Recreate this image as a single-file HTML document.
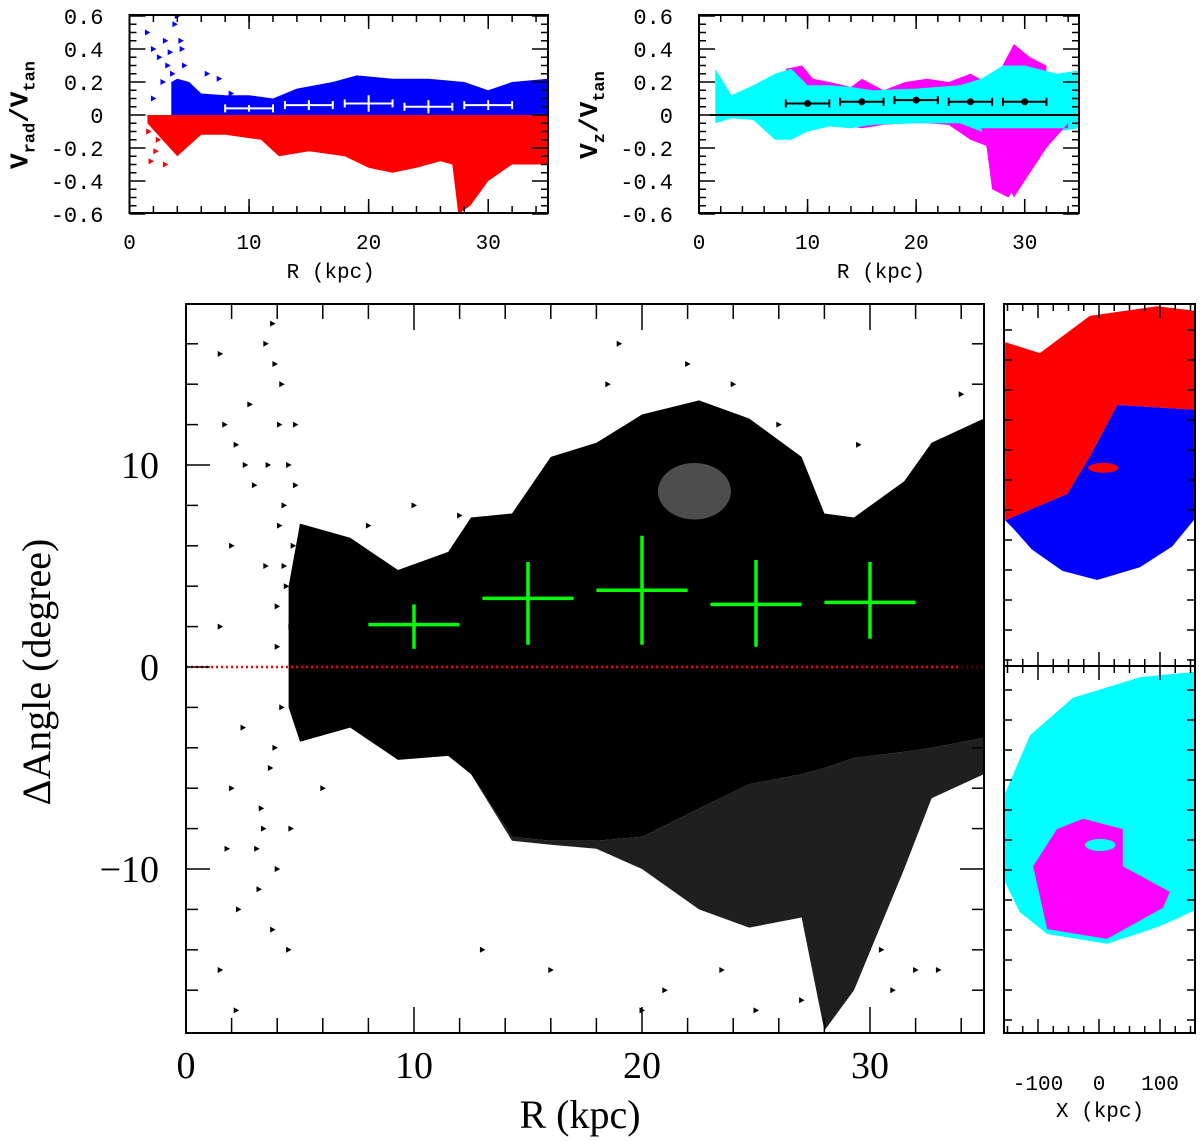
<!DOCTYPE html>
<html><head><meta charset="utf-8">
<style>
html,body{margin:0;padding:0;background:#fff;}
svg{display:block;}
.mono{font-family:"Liberation Mono","DejaVu Sans Mono",monospace;}
.serif{font-family:"Liberation Serif","DejaVu Serif",serif;}
</style></head>
<body>
<svg id="fig" width="1200" height="1141" viewBox="0 0 1200 1141" xmlns="http://www.w3.org/2000/svg">
<defs>
<clipPath id="cTL"><rect x="129.5" y="15" width="418.5" height="198"/></clipPath>
<clipPath id="cTR"><rect x="699" y="15" width="380" height="198"/></clipPath>
<clipPath id="cM"><rect x="186" y="304" width="798" height="729"/></clipPath>
<clipPath id="cS1"><rect x="1004" y="304" width="191" height="362"/></clipPath>
<clipPath id="cS2"><rect x="1004" y="666" width="191" height="367"/></clipPath>
</defs>
</svg>
<script>
// ---------- MAIN PANEL DATA ----------
const mainR      = [4.5, 5, 7.2, 9.3, 11.5, 12.5, 14.3, 16, 18, 20, 22.5, 24.7, 27, 28, 29.3, 31.5, 32.7, 35];
const mainUpper  = [4, 7.1, 6.4, 4.8, 5.7, 7.4, 7.6, 10.4, 11.1, 12.5, 13.2, 12.3, 10.4, 7.6, 7.4, 9.2, 11.1, 12.3];
const mainCore   = [-2, -3.7, -3, -4.6, -4.4, -5.3, -8.4, -8.6, -8.6, -8.4, -7, -5.8, -5.3, -5, -4.5, -4.2, -4, -3.5];
const mainFringe = [-2, -3.7, -3, -4.6, -4.4, -5.3, -8.6, -8.8, -9, -10, -12, -12.9, -12.4, -18, -16, -10, -6.5, -5.3];
const binR    = [10, 15, 20, 25, 30];
const binVal  = [2.1, 3.4, 3.8, 3.1, 3.2];
const binLo   = [0.9, 1.1, 1.1, 1.0, 1.4];
const binHi   = [3.1, 5.2, 6.5, 5.3, 5.2];
const binHalf = [2, 2, 2, 2, 2];
const sparseR = [1.5,1.7,2.2,2.8,3.5,3.8,4.2,4.5,4.8,3,2,1.5,2.5,2,1.8,2.3,3.2,3.8,4.5,1.5,2.2,4,4.6,3.3,3.5,4,19,18.5,22,26,29.5,34,20,25,31,33,27,12,10,3.9,4.1,4.3,3.6,4.7,4.4,3.7,4.0,4.2,4.6,3.9,4.3,4.1,3.4,4.8,2.6,3.1,13,16,21,23.5,24,32,30.5,8,6];
const sparseA = [15.5,12,11,13,16,17,14,10,12,9,6,2,-3,-6,-9,-12,-11,-13,-14,-15,-17,-10,-8,-7,5,3,16,14,15,12,11,13.5,-17,-17,-16,-15,-16.5,7.5,8,15,12,8,10,6,4,-5,1,-2,2,-4,5,7,-8,9,10,-9,-14,-15,-16,-15,14,-15,-14,7,-6];
const mainXTicks = [0, 10, 20, 30];
const mainYTicks = [-10, 0, 10];

// ---------- TOP-LEFT DATA ----------
const tlR     = [3.5, 4, 5, 6, 8, 10, 12, 14, 17, 19, 22, 25, 28, 30, 32, 35];
const tlUpper = [0.2, 0.22, 0.2, 0.13, 0.12, 0.12, 0.1, 0.16, 0.2, 0.24, 0.22, 0.22, 0.2, 0.15, 0.2, 0.22];
const tlRedR  = [1.5, 4, 6, 8, 11, 12.5, 15, 18, 20, 22, 24, 26, 27, 27.5, 28.5, 30, 32, 35];
const tlLower = [-0.05, -0.25, -0.12, -0.12, -0.15, -0.25, -0.22, -0.25, -0.32, -0.35, -0.32, -0.28, -0.3, -0.6, -0.55, -0.4, -0.3, -0.3];
const tlBinVal = [0.04, 0.06, 0.07, 0.05, 0.06];
const tlBinErr = [0.02, 0.03, 0.05, 0.04, 0.03];
const tlSpR = [1.5,2,2.5,3,3.2,3.8,4,4.3,4.6,2,1.8,2.2,3,6.5,7.5,8.5,3.4,3.6,2.8,4.4,2.4,1.6];
const tlSpV = [0.5,0.4,0.35,0.45,0.3,0.55,0.6,0.45,0.3,0.1,-0.28,-0.22,-0.3,0.25,0.22,0.13,0.38,0.25,0.2,0.4,-0.15,-0.1];

// ---------- TOP-RIGHT DATA ----------
const trR      = [1.5, 3, 5, 7, 8.5, 10, 12, 14, 16, 20, 24, 26, 28, 30, 33, 35];
const trCyanHi = [0.28, 0.12, 0.18, 0.25, 0.28, 0.18, 0.18, 0.17, 0.15, 0.16, 0.18, 0.22, 0.3, 0.3, 0.25, 0.27];
const trCyanLo = [-0.05, -0.02, -0.03, -0.15, -0.15, -0.1, -0.07, -0.08, -0.06, -0.05, -0.05, -0.1, -0.15, -0.12, -0.1, -0.08];
const trMagR   = [8, 9.5, 10.5, 12, 14, 15, 17, 19, 21, 23, 25, 27, 29, 30.5, 32];
const trMagHi  = [0.28, 0.3, 0.22, 0.2, 0.17, 0.22, 0.15, 0.2, 0.22, 0.2, 0.25, 0.18, 0.43, 0.35, 0.3];
const trMagLo  = [-0.1, -0.1, -0.08, -0.07, -0.07, -0.08, -0.06, -0.05, -0.05, -0.06, -0.15, -0.2, -0.5, -0.35, -0.2];
const trTroR   = [26, 26.5, 27, 28.5, 30, 32, 34];
const trTroLo  = [-0.08, -0.2, -0.45, -0.5, -0.35, -0.2, -0.05];
const trBinVal = [0.07, 0.08, 0.09, 0.08, 0.08];
const trBinErr = [0.01, 0.02, 0.02, 0.01, 0.02];

// ---------- SIDE PANELS (X,Y in kpc) ----------
const s1RedX  = [-154,-97,-15,95,161,161,30,-15,-52,-154];
const s1RedY  = [235,217,278,294,286,124,132,47,-14,-57];
const s1BlueX = [-154,-52,-15,30,161,161,120,67,-3,-60,-110,-141];
const s1BlueY = [-57,-14,47,132,124,-50,-100,-134,-155,-140,-105,-70];
const s2CyanX = [-154,-113,-43,67,161,161,130,95,13,-85,-130,-154];
const s2CyanY = [90,185,246,280,289,-100,-115,-130,-157,-141,-105,-56];
const s2MagX  = [-108,-69,-26,39,39,116,105,13,-85];
const s2MagY  = [-30,31,48,31,-30,-72,-98,-149,-133];
const sideXTicks = [-100, 0, 100];

const NS = "http://www.w3.org/2000/svg";
const svg = document.getElementById('fig');
function mk(tag, attrs, parent){ const e=document.createElementNS(NS,tag); for(const k in attrs) e.setAttribute(k,attrs[k]); (parent||svg).appendChild(e); return e; }

const mx = r => 186 + r*22.8, my = a => 667 - a*20.2;
const tlx = r => 129.5 + r*11.957, tly = v => 115 - v*165;
const trx = r => 699 + r*10.857, tryy = v => 115 - v*165;
const s1x = x => 1099 + x*0.61, s1y = y => 485.5 - y*0.61;
const s2y = y => 848 - y*0.61;

function band(xs, hi, lo, fx, fy){
  let d = 'M' + xs.map((r,i)=>fx(r).toFixed(1)+','+fy(hi[i]).toFixed(1)).join('L');
  for(let i=xs.length-1;i>=0;i--) d += 'L'+fx(xs[i]).toFixed(1)+','+fy(lo[i]).toFixed(1);
  return d+'Z';
}
function poly(xs, ys, fx, fy){ return xs.map((x,i)=>fx(x).toFixed(1)+','+fy(ys[i]).toFixed(1)).join(' '); }
function tri(g, x, y, c){ return mk('path',{d:`M${x-2.5},${y-3}L${x+3},${y}L${x-2.5},${y+3}Z`, fill:c}, g); }

// ================= TOP-LEFT =================
const gTL = mk('g',{'clip-path':'url(#cTL)'});


const zeros = tlR.map(()=>0);
let p = mk('path',{d:band(tlR,tlUpper,zeros,tlx,tly), fill:'#0000ff'}, gTL);
 
p = mk('path',{d:band(tlRedR,tlRedR.map(()=>0),tlLower,tlx,tly), fill:'#ff0000'}, gTL);
 
tlSpR.forEach((r,i)=>{ const t=tri(gTL,tlx(r),tly(tlSpV[i]), tlSpV[i]>0?'#0000ff':'#ff0000');   });
binR.forEach((r,i)=>{
  const g=mk('g',{stroke:'#fff','stroke-width':2,fill:'none'});
   
  mk('line',{x1:tlx(r-binHalf[i]),x2:tlx(r+binHalf[i]),y1:tly(tlBinVal[i]),y2:tly(tlBinVal[i])},g);
  mk('line',{x1:tlx(r),x2:tlx(r),y1:tly(tlBinVal[i]-tlBinErr[i]),y2:tly(tlBinVal[i]+tlBinErr[i])},g);
  mk('line',{x1:tlx(r-binHalf[i]),x2:tlx(r-binHalf[i]),y1:tly(tlBinVal[i])-4,y2:tly(tlBinVal[i])+4},g);
  mk('line',{x1:tlx(r+binHalf[i]),x2:tlx(r+binHalf[i]),y1:tly(tlBinVal[i])-4,y2:tly(tlBinVal[i])+4},g);
});

// ================= TOP-RIGHT =================
const gTR = mk('g',{'clip-path':'url(#cTR)'});


p = mk('path',{d:band(trMagR,trMagHi,trMagLo,trx,tryy), fill:'#ff00ff'}, gTR);
 
p = mk('path',{d:band(trR,trCyanHi,trCyanLo,trx,tryy), fill:'#00ffff'}, gTR);
 
p = mk('path',{d:band(trTroR,trTroR.map(()=>-0.08),trTroLo,trx,tryy), fill:'#ff00ff'}, gTR);
 
p = mk('line',{x1:trx(1),x2:trx(35),y1:tryy(0),y2:tryy(0),stroke:'#000','stroke-width':2}, gTR);
 
binR.forEach((r,i)=>{
  const g=mk('g',{stroke:'#000','stroke-width':2,fill:'none'});
   
  mk('line',{x1:trx(r-binHalf[i]),x2:trx(r+binHalf[i]),y1:tryy(trBinVal[i]),y2:tryy(trBinVal[i])},g);
  mk('line',{x1:trx(r),x2:trx(r),y1:tryy(trBinVal[i]-trBinErr[i]),y2:tryy(trBinVal[i]+trBinErr[i])},g);
  mk('line',{x1:trx(r-binHalf[i]),x2:trx(r-binHalf[i]),y1:tryy(trBinVal[i])-4,y2:tryy(trBinVal[i])+4},g);
  mk('line',{x1:trx(r+binHalf[i]),x2:trx(r+binHalf[i]),y1:tryy(trBinVal[i])-4,y2:tryy(trBinVal[i])+4},g);
  mk('circle',{cx:trx(r),cy:tryy(trBinVal[i]),r:2.5,fill:'#000'},g);
});

function smallAxes(x0,x1,fx,fy,name,ylab){
  const g=mk('g',{});
   
  mk('rect',{x:x0,y:15,width:x1-x0,height:198,fill:'none',stroke:'#000','stroke-width':2},g);
  for(let r=2;r<=35;r+=2){ const L=7;
    mk('line',{x1:fx(r),x2:fx(r),y1:213,y2:213-L,stroke:'#000','stroke-width':1.5},g);
    mk('line',{x1:fx(r),x2:fx(r),y1:15,y2:15+L,stroke:'#000','stroke-width':1.5},g); }
  [10,20,30].forEach(r=>{ mk('line',{x1:fx(r),x2:fx(r),y1:213,y2:199,stroke:'#000','stroke-width':1.5},g); mk('line',{x1:fx(r),x2:fx(r),y1:15,y2:29,stroke:'#000','stroke-width':1.5},g); });
  for(let k=-12;k<=12;k++){ const v=k*0.05; const L=(k%4===0)?16:7;
    mk('line',{x1:x0,x2:x0+L,y1:fy(v),y2:fy(v),stroke:'#000','stroke-width':1.5},g);
    mk('line',{x1:x1,x2:x1-L,y1:fy(v),y2:fy(v),stroke:'#000','stroke-width':1.5},g); }
  [0,10,20,30].forEach(r=>{ const t=mk('text',{x:fx(r),y:249,'text-anchor':'middle','font-size':21,class:'mono'},g); t.textContent=r;
      });
  ['0.6','0.4','0.2','0','-0.2','-0.4','-0.6'].forEach((s,i)=>{ const v=0.6-i*0.2;
    const t=mk('text',{x:x0-26,y:fy(v)+8,'text-anchor':'end','font-size':22,class:'mono'},g); t.textContent=s;
      });
  const xt=mk('text',{x:(x0+x1)/2-8,y:278,'text-anchor':'middle','font-size':21,class:'mono'},g); xt.textContent='R (kpc)';
   
  const yt=mk('text',{x:0,y:0,'text-anchor':'middle','font-size':26,class:'mono','font-weight':'bold',transform:`translate(${x0-102},115) rotate(-90)`},g);
   
  yt.innerHTML=`V<tspan font-size="17" dy="7">${ylab}</tspan><tspan dy="-7">/V</tspan><tspan font-size="17" dy="7">tan</tspan>`;
}
smallAxes(129.5,548,tlx,tly,'vrad-panel','rad');
smallAxes(699,1079,trx,tryy,'vz-panel','z');

// ================= MAIN =================
const gM = mk('g',{'clip-path':'url(#cM)'});
 
p = mk('path',{d:band(mainR,mainCore,mainFringe,mx,my), fill:'#000', opacity:0.88}, gM);
 
p = mk('path',{d:band(mainR,mainUpper,mainCore,mx,my), fill:'#000'}, gM);
 
p = mk('ellipse',{cx:mx(22.3),cy:my(8.7),rx:22.8*1.6,ry:20.2*1.4,fill:'#fff',opacity:0.3}, gM);
 
sparseR.forEach((r,i)=>{ const t=tri(gM,mx(r),my(sparseA[i]),'#000');   });
p = mk('line',{x1:186,x2:984,y1:my(0),y2:my(0),stroke:'#ff0000','stroke-width':2.5,'stroke-dasharray':'2 3'}, gM);
 
binR.forEach((r,i)=>{
  const g=mk('g',{stroke:'#00ff00','stroke-width':3.5});
   
  mk('line',{x1:mx(r-binHalf[i]),x2:mx(r+binHalf[i]),y1:my(binVal[i]),y2:my(binVal[i])},g);
  mk('line',{x1:mx(r),x2:mx(r),y1:my(binLo[i]),y2:my(binHi[i])},g);
});
const gMA=mk('g',{});
 
mk('rect',{x:186,y:304,width:798,height:729,fill:'none',stroke:'#000','stroke-width':2},gMA);
for(let r=2;r<35;r+=2){ const L=(r%10===0)?26:15;
  mk('line',{x1:mx(r),x2:mx(r),y1:1033,y2:1033-L,stroke:'#000','stroke-width':1.5},gMA);
  mk('line',{x1:mx(r),x2:mx(r),y1:304,y2:304+L,stroke:'#000','stroke-width':1.5},gMA); }
for(let a=-16;a<=16;a+=2){ const L=(a%10===0)?24:12;
  mk('line',{x1:186,x2:186+L,y1:my(a),y2:my(a),stroke:'#000','stroke-width':1.5},gMA);
  mk('line',{x1:984,x2:984-L,y1:my(a),y2:my(a),stroke:'#000','stroke-width':1.5},gMA); }
mainXTicks.forEach(r=>{ const t=mk('text',{x:mx(r),y:1078,'text-anchor':'middle','font-size':38,class:'serif'},gMA); t.textContent=r;
    });
mainYTicks.forEach(a=>{ const t=mk('text',{x:159,y:my(a)+13,'text-anchor':'end','font-size':38,class:'serif'},gMA); t.textContent=(a<0?'\u2212':'')+Math.abs(a);
    });
let tt=mk('text',{x:580,y:1128,'text-anchor':'middle','font-size':40,class:'serif'},gMA); tt.textContent='R (kpc)';
 
tt=mk('text',{x:0,y:0,'text-anchor':'middle','font-size':40,class:'serif',transform:'translate(50,672) rotate(-90)'},gMA); tt.textContent='\u0394Angle (degree)';
 

// ================= SIDE PANELS =================
const gS1=mk('g',{'clip-path':'url(#cS1)'});
 
p=mk('polygon',{points:poly(s1RedX,s1RedY,s1x,s1y),fill:'#ff0000'},gS1);  
p=mk('polygon',{points:poly(s1BlueX,s1BlueY,s1x,s1y),fill:'#0000ff'},gS1);  
p=mk('ellipse',{cx:s1x(7),cy:s1y(29),rx:25*0.61,ry:8*0.61,fill:'#ff0000'},gS1);  
const gS2=mk('g',{'clip-path':'url(#cS2)'});
 
p=mk('polygon',{points:poly(s2CyanX,s2CyanY,s1x,s2y),fill:'#00ffff'},gS2);  
p=mk('polygon',{points:poly(s2MagX,s2MagY,s1x,s2y),fill:'#ff00ff'},gS2);  
p=mk('ellipse',{cx:s1x(2),cy:s2y(5),rx:25*0.61,ry:10*0.61,fill:'#00ffff'},gS2);  
const gSA=mk('g',{});
 
mk('rect',{x:1004,y:304,width:191,height:729,fill:'none',stroke:'#000','stroke-width':2},gSA);
mk('line',{x1:1004,x2:1195,y1:666,y2:666,stroke:'#000','stroke-width':2},gSA);
for(let x=-150;x<=150;x+=25){ const L=(x%100===0)?14:7;
  [304,666].forEach(y=>mk('line',{x1:s1x(x),x2:s1x(x),y1:y,y2:y+L,stroke:'#000','stroke-width':1.5},gSA));
  [666,1033].forEach(y=>mk('line',{x1:s1x(x),x2:s1x(x),y1:y,y2:y-L,stroke:'#000','stroke-width':1.5},gSA)); }
for(let y=330;y<1033;y+=30){ mk('line',{x1:1004,x2:1012,y1:y,y2:y,stroke:'#000','stroke-width':1.5},gSA); mk('line',{x1:1195,x2:1187,y1:y,y2:y,stroke:'#000','stroke-width':1.5},gSA); }
sideXTicks.forEach(x=>{ const t=mk('text',{x:s1x(x),y:1090,'text-anchor':'middle','font-size':21,class:'mono'},gSA); t.textContent=(x<0?'-':'')+Math.abs(x);
    });
tt=mk('text',{x:1100,y:1117,'text-anchor':'middle','font-size':21,class:'mono'},gSA); tt.textContent='X (kpc)';
 
</script>
</body></html>
